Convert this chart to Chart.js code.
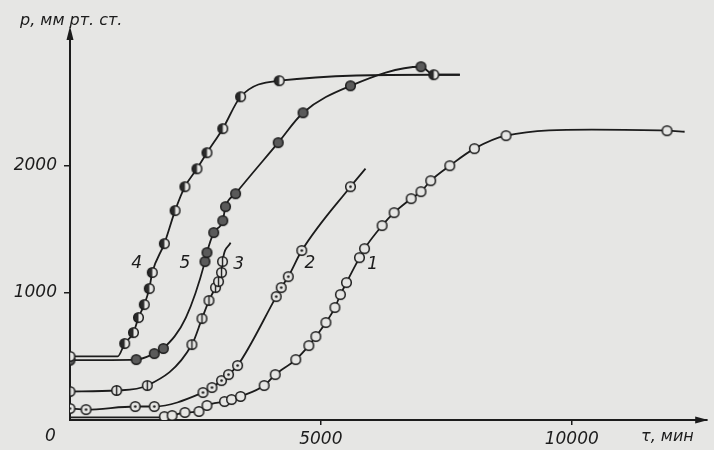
<!DOCTYPE html>
<html>
<head>
<meta charset="utf-8">
<script src="https://cdn.jsdelivr.net/npm/chart.js@4"></script>
<style>
  html, body { margin: 0; padding: 0; background: #e6e6e4; }
  canvas { display: block; }
</style>
</head>
<body>
<canvas id="pressureChart" width="714" height="450"></canvas>
<script>
// time, min / pressure, mm Hg
const curve1T = [0, 1780, 1880, 2035, 2290, 2570, 2730, 3080, 3220, 3400, 3870, 4090, 4500, 4760, 4900, 5100, 5280, 5390, 5510, 5770, 5870, 6220, 6460, 6800, 6995, 7190, 7570, 8060, 8690, 10400, 11900, 12250];
const curve1P = [20, 20, 27, 35, 59, 67, 114, 145, 161, 185, 271, 357, 475, 585, 656, 766, 884, 986, 1080, 1276, 1347, 1528, 1630, 1740, 1795, 1881, 1999, 2133, 2235, 2282, 2274, 2266];
const curve1Bare = [0, 1, 29, 31];

const curve2T = [0, 320, 1300, 1680, 2650, 2830, 3020, 3160, 3340, 4110, 4210, 4350, 4620, 5590, 5890];
const curve2P = [90, 82, 106, 106, 216, 255, 310, 357, 428, 970, 1041, 1127, 1332, 1834, 1976];
const curve2Bare = [14];

const curve3T = [0, 930, 1540, 2430, 2630, 2770, 2900, 2960, 3020, 3040, 3200];
const curve3P = [224, 232, 271, 593, 797, 939, 1041, 1088, 1159, 1245, 1394];
const curve3Bare = [10];

const curve4T = [0, 950, 1090, 1265, 1365, 1480, 1580, 1640, 1880, 2095, 2290, 2530, 2730, 3045, 3400, 4170, 7250, 7770];
const curve4P = [500, 500, 601, 687, 805, 907, 1033, 1159, 1386, 1646, 1834, 1975, 2101, 2290, 2541, 2667, 2714, 2714];
const curve4Bare = [1, 17];

const curve5T = [0, 1320, 1680, 1860, 2310, 2690, 2730, 2865, 3045, 3100, 3300, 4150, 4645, 5590, 6995, 7250, 7770];
const curve5P = [470, 475, 522, 562, 805, 1245, 1316, 1473, 1567, 1677, 1779, 2180, 2415, 2627, 2777, 2714, 2714];
const curve5Bare = [4, 15, 16];

const xTicks = [5000, 10000];
const yTicks = [1000, 2000];

// curve numbers and where they sit (data coords)
const curveNames = ['4', '5', '3', '2', '1'];
const curveNameT = [1330, 2290, 3360, 4780, 6030];
const curveNameP = [1230, 1230, 1220, 1230, 1225];

const paper = '#e6e6e4';
const ink = '#1c1c1c';

// marker images
function marker(kind) {
  const c = document.createElement('canvas');
  c.width = 13; c.height = 13;
  const g = c.getContext('2d');
  const r = 4.8;
  g.beginPath(); g.arc(6.5, 6.5, r, 0, Math.PI * 2);
  g.fillStyle = kind === 'filled' ? '#5a5a5a' : paper;
  g.fill();
  if (kind === 'half') {
    g.beginPath(); g.moveTo(6.5, 6.5);
    g.arc(6.5, 6.5, r, Math.PI * 0.5, Math.PI * 1.5);
    g.closePath(); g.fillStyle = '#2a2a2a'; g.fill();
  }
  g.beginPath(); g.arc(6.5, 6.5, r, 0, Math.PI * 2);
  g.lineWidth = 1.5; g.strokeStyle = ink; g.stroke();
  if (kind === 'dot') {
    g.beginPath(); g.arc(6.5, 6.5, 1.3, 0, Math.PI * 2); g.fillStyle = ink; g.fill();
  }
  if (kind === 'bar') {
    g.beginPath(); g.moveTo(6.5, 2); g.lineTo(6.5, 11); g.lineWidth = 1.4; g.stroke();
  }
  return c;
}

function series(ts, ps, bare, kind) {
  const img = marker(kind);
  return {
    data: ts.map((t, i) => ({ x: t, y: ps[i] })),
    borderColor: ink,
    borderWidth: 1.8,
    cubicInterpolationMode: 'monotone',
    pointStyle: img,
    pointRadius: ts.map((t, i) => bare.includes(i) ? 0 : 5),
    pointHoverRadius: 0
  };
}

const decor = {
  id: 'decor',
  afterDraw(chart) {
    const ctx = chart.ctx;
    const xs = chart.scales.x, ys = chart.scales.y;
    const a = chart.chartArea;
    ctx.save();
    ctx.fillStyle = ink;
    // arrows
    ctx.beginPath();
    ctx.moveTo(a.left, a.top - 6); ctx.lineTo(a.left - 3.5, a.top + 8); ctx.lineTo(a.left + 3.5, a.top + 8);
    ctx.closePath(); ctx.fill();
    ctx.beginPath();
    ctx.moveTo(a.right + 1, a.bottom); ctx.lineTo(a.right - 12, a.bottom - 3.5); ctx.lineTo(a.right - 12, a.bottom + 3.5);
    ctx.closePath(); ctx.fill();
    // axis titles
    ctx.font = 'italic 16px "DejaVu Sans"';
    ctx.textBaseline = 'middle';
    ctx.textAlign = 'left';
    ctx.fillText('p, мм рт. ст.', 20, 21);
    ctx.fillText('τ, мин', 641, 437);
    ctx.font = 'italic 17px "DejaVu Sans"';
    ctx.fillText('0', 45, 437);
    // curve numbers
    ctx.textAlign = 'center';
    curveNames.forEach((n, i) => {
      ctx.fillText(n, xs.getPixelForValue(curveNameT[i]), ys.getPixelForValue(curveNameP[i]));
    });
    ctx.restore();
  }
};

const tickFont = { family: 'DejaVu Sans', size: 17, style: 'italic' };

new Chart(document.getElementById('pressureChart'), {
  type: 'line',
  data: {
    datasets: [
      series(curve1T, curve1P, curve1Bare, 'open'),
      series(curve2T, curve2P, curve2Bare, 'dot'),
      series(curve3T, curve3P, curve3Bare, 'bar'),
      series(curve4T, curve4P, curve4Bare, 'half'),
      series(curve5T, curve5P, curve5Bare, 'filled')
    ]
  },
  options: {
    responsive: false,
    animation: false,
    layout: { padding: { left: 0, right: 1, top: 32, bottom: 0 } },
    plugins: { legend: { display: false }, tooltip: { enabled: false } },
    scales: {
      x: {
        type: 'linear',
        min: 0,
        max: 12700,
        afterBuildTicks: s => { s.ticks = xTicks.map(v => ({ value: v })); },
        afterFit: s => { s.height = 30; },
        grid: { drawOnChartArea: false, color: ink, tickLength: 5, lineWidth: 1.5 },
        border: { color: ink, width: 2 },
        ticks: { color: ink, padding: 4, font: tickFont, callback: v => String(v) }
      },
      y: {
        min: 0,
        max: 3050,
        afterBuildTicks: s => { s.ticks = yTicks.map(v => ({ value: v })); },
        afterFit: s => { s.width = 70; },
        grid: { drawOnChartArea: false, color: ink, tickLength: 6, lineWidth: 1.5 },
        border: { color: ink, width: 2 },
        ticks: { color: ink, padding: 7, font: tickFont, callback: v => String(v) }
      }
    }
  },
  plugins: [decor]
});
</script>
</body>
</html>
